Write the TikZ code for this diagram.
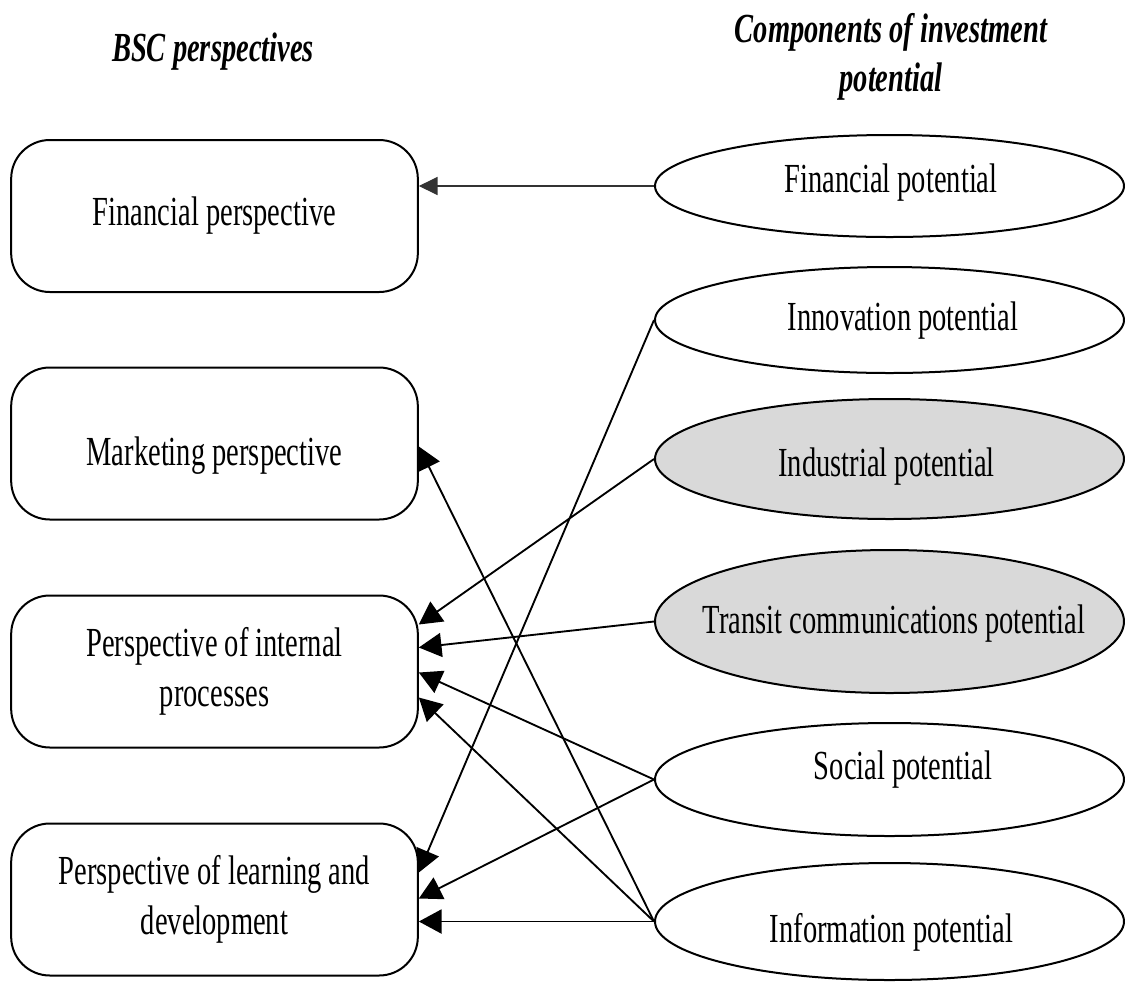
\documentclass[tikz,border=0pt]{standalone}
\usepackage{fontspec}
\newfontfamily\diafont[FakeStretch=0.69]{Liberation Serif}
\usepackage{tikz}
\usetikzlibrary{arrows.meta,calc,shapes.geometric}

\begin{document}
\begin{tikzpicture}[x=0.75pt, y=-0.75pt,
    font=\diafont\fontsize{31}{37}\selectfont,
    persp/.style={draw, line width=1.5pt, rounded corners=29pt, minimum width=305pt, minimum height=114pt, align=center, inner sep=0pt},
    potential/.style={draw, ellipse, line width=1.5pt, minimum width=351.75pt, inner sep=0pt},
    hilite/.style={potential, fill=gray!30},
    link/.style={line width=1.4pt, -{Triangle[length=17pt, width=18pt]}},
    thinlink/.style={line width=0.9pt, black!80, -{Triangle[length=14pt, width=13.5pt]}},
    title/.style={font=\diafont\fontsize{31}{37}\selectfont\bfseries\itshape, align=center}]
  \useasboundingbox (0,0) rectangle (1125,983);
  % Headings
  \node[title] (bschead) at (213,52) {BSC perspectives};
  \node[title] (comphead) at (891,57) {Components of investment\\potential};
  % BSC perspectives
  \node[persp] (finbox) at (214.5,216) {Financial perspective};
  \node[persp, text height=40pt] (mktbox) at (214.5,443.5) {Marketing perspective};
  \node[persp] (intbox) at (214.5,671.5) {Perspective of internal\\processes};
  \node[persp] (lrnbox) at (214.5,899.5) {Perspective of learning and\\development};
  % Components of the potential
  \node[potential, minimum height=76.5pt] (finpot) at (889.5,186) {};
  \node[potential, minimum height=79.5pt] (innpot) at (889.5,320) {};
  \node[hilite, minimum height=90pt] (indpot) at (889.5,459) {};
  \node[hilite, minimum height=107.25pt] (trapot) at (889.5,621.5) {};
  \node[potential, minimum height=84.75pt] (socpot) at (889.5,779.5) {};
  \node[potential, minimum height=87.75pt] (infpot) at (889.5,921.5) {};
  \node (fintxt) at (891,183) {Financial potential};
  \node (inntxt) at (903,321) {Innovation potential};
  \node (indtxt) at (886.5,467) {Industrial potential};
  \node (tratxt) at (894,624) {Transit communications potential};
  \node (soctxt) at (903,770) {Social potential};
  \node (inftxt) at (891.5,932) {Information potential};
  % Links
  \draw[thinlink] (finpot.west) -- (finbox.east |- finpot.west);
  \draw[link] (infpot.west) -- ($(mktbox.east)+(0,3)$);
  \draw[link] (indpot.west) -- ($(intbox.east)+(0,-47)$);
  \draw[link] (trapot.west) -- ($(intbox.east)+(0,-24)$);
  \draw[link] (socpot.west) -- ($(intbox.east)+(0,1)$);
  \draw[link] (infpot.west) -- ($(intbox.east)+(0,26)$);
  \draw[link] (innpot.west) -- ($(lrnbox.east)+(0,-27)$);
  \draw[link] (socpot.west) -- ($(lrnbox.east)+(0,-1)$);
  \draw[link] (infpot.west) -- (lrnbox.east |- infpot.west);
\end{tikzpicture}
\end{document}
